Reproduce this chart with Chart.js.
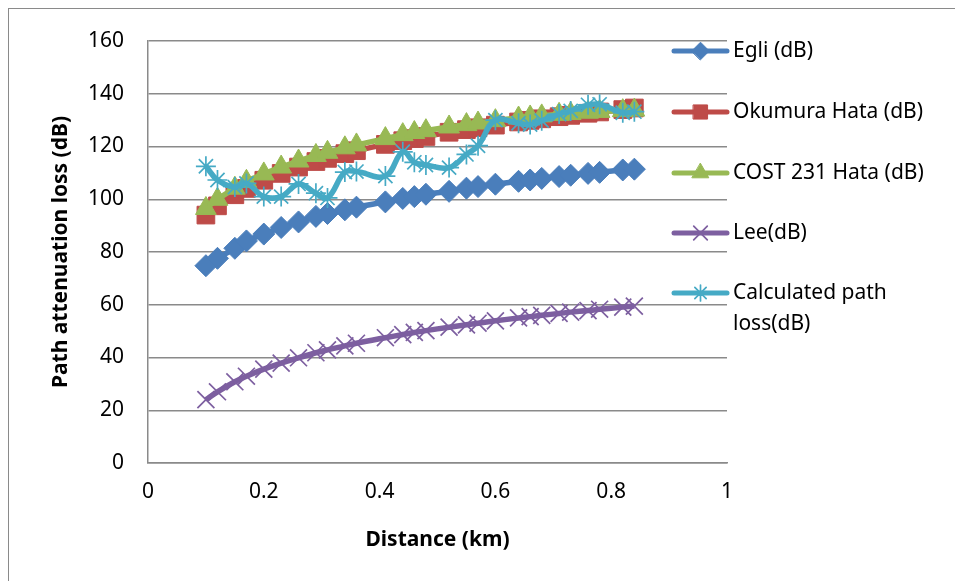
<!DOCTYPE html>
<html lang="en">
<head>
  <meta charset="UTF-8" />
  <title>Path attenuation loss</title>
  <script src="https://cdn.jsdelivr.net/npm/chart.js"></script>
  <style>
    body { margin: 0; background: #fff; }
    #wrap { position: relative; width: 955px; height: 581px; }
    #frame { position: absolute; left: 8px; top: 8px; right: 0; bottom: 0; border-left: 1px solid #8a8a8a; border-top: 1px solid #8a8a8a; pointer-events: none; }
    canvas { position: absolute; left: 0; top: 0; }
  </style>
</head>
<body>
<div id="wrap">
  <canvas id="lossChart" width="955" height="581"></canvas>
  <div id="frame"></div>
</div>

<script>
  // distances (km)
  const distance = [0.1, 0.12, 0.15, 0.17, 0.2, 0.23, 0.26, 0.29, 0.31, 0.34, 0.36, 0.41, 0.44, 0.46,
                    0.48, 0.52, 0.55, 0.57, 0.6, 0.64, 0.66, 0.68, 0.71, 0.73, 0.76, 0.78, 0.82, 0.84];

  const egli = [74.8, 77.6, 81.4, 84.2, 86.8, 89.3, 91.4, 93.5, 94.6, 96.0, 97.0, 99.0, 100.3, 101.0,
                101.9, 103.0, 104.2, 104.8, 105.7, 106.8, 107.3, 107.9, 108.6, 109.1, 109.8, 110.2, 111.1, 111.4];

  const okumuraHata = [94.0, 97.5, 101.7, 104.1, 107.2, 109.8, 112.2, 114.3, 115.5, 117.3, 118.4, 120.8, 122.2, 123.0,
                       123.8, 125.4, 126.4, 127.1, 128.1, 129.3, 129.9, 130.5, 131.3, 131.8, 132.6, 133.1, 134.0, 134.6];

  const cost231 = [96.5, 100.0, 104.2, 106.8, 109.6, 112.2, 114.5, 116.6, 117.8, 119.5, 120.6, 123.0, 124.5, 125.3,
                   126.0, 127.4, 128.3, 128.9, 129.8, 130.8, 131.2, 131.6, 132.2, 132.5, 133.0, 133.3, 133.6, 133.8];

  const lee = [24.0, 27.0, 30.8, 32.9, 35.6, 37.9, 39.9, 41.8, 42.9, 44.4, 45.4, 47.5, 48.7, 49.5,
               50.2, 51.5, 52.4, 53.0, 53.9, 55.0, 55.5, 56.0, 56.7, 57.2, 57.8, 58.3, 59.1, 59.5];

  const calculated = [112.5, 107.3, 104.6, 106.0, 101.0, 101.0, 105.8, 102.3, 100.5, 110.3, 110.5, 108.8, 118.0, 114.0,
                      113.0, 112.0, 117.0, 120.3, 130.0, 128.8, 128.3, 129.8, 132.3, 133.5, 135.8, 136.0, 132.8, 133.2];

  const FONT = "'Noto Sans', 'DejaVu Sans', sans-serif";

  function pts(arr) {
    return arr.map((v, i) => ({ x: distance[i], y: v }));
  }

  function series(label, values, color, style, radius, order, filled) {
    return {
      label: label,
      data: pts(values),
      borderColor: color,
      backgroundColor: color,
      borderWidth: 5.5,
      showLine: true,
      tension: 0.4,
      pointStyle: style,
      pointRadius: radius,
      pointBorderWidth: filled ? 1 : 1.7,
      pointBorderColor: color,
      pointBackgroundColor: filled ? color : 'transparent',
      order: order
    };
  }

  const datasets = [
    series('Egli (dB)', egli, '#4a7ebb', 'rectRot', 11, 5, true),
    series('Okumura Hata (dB)', okumuraHata, '#be4b48', 'rect', 12.5, 4, true),
    series('COST 231 Hata (dB)', cost231, '#98b954', 'triangle', 12, 3, true),
    series('Lee(dB)', lee, '#7d5fa0', 'crossRot', 12, 2, false),
    series('Calculated path loss(dB)', calculated, '#46aac5', 'star', 10, 1, false)
  ];

  // legend drawn over the right part of the plot, like the original
  const legendLines = [['Egli (dB)'], ['Okumura Hata (dB)'], ['COST 231 Hata (dB)'], ['Lee(dB)'], ['Calculated path', 'loss(dB)']];
  const legendY = [51, 112, 173, 233, 293];

  const sideLegend = {
    id: 'sideLegend',
    afterDraw(chart) {
      const ctx = chart.ctx;
      ctx.save();
      datasets.forEach((ds, i) => {
        const y = legendY[i];
        ctx.beginPath();
        ctx.lineCap = 'round';
        ctx.lineWidth = 5;
        ctx.strokeStyle = ds.borderColor;
        ctx.moveTo(674, y);
        ctx.lineTo(727, y);
        ctx.stroke();
        ctx.fillStyle = ds.pointBackgroundColor;
        ctx.strokeStyle = ds.pointBorderColor;
        ctx.lineWidth = ds.pointBorderWidth;
        Chart.helpers.drawPoint(ctx, { pointStyle: ds.pointStyle, radius: ds.pointRadius * 0.8, rotation: 0, borderWidth: ds.pointBorderWidth }, 700.5, y);
        ctx.fillStyle = '#000';
        ctx.font = '21px ' + FONT;
        ctx.textBaseline = 'middle';
        ctx.textAlign = 'left';
        legendLines[i].forEach((t, j) => ctx.fillText(t, 733, y + j * 31));
      });
      ctx.restore();
    }
  };

  const ctx = document.getElementById('lossChart').getContext('2d');
  const chart = new Chart(ctx, {
    type: 'scatter',
    data: { datasets: datasets },
    options: {
      responsive: false,
      animation: false,
      layout: { padding: { left: 0, right: 228, top: 41, bottom: 0 } },
      plugins: { legend: { display: false }, tooltip: { enabled: false } },
      scales: {
        x: {
          min: 0, max: 1,
          ticks: {
            stepSize: 0.2, padding: 16, color: '#000', font: { family: FONT, size: 21 },
            callback: v => String(Number(v.toFixed(1)))
          },
          grid: { display: false, drawTicks: false },
          border: { color: '#8a8a8a', width: 1.5 },
          title: { display: true, text: 'Distance (km)', color: '#000', font: { family: FONT, size: 21, weight: 'bold' }, padding: { bottom: 28 } },
          afterFit(scale) { scale.height = 118; }
        },
        y: {
          min: 0, max: 160,
          ticks: { stepSize: 20, padding: 24, color: '#000', font: { family: FONT, size: 21 } },
          grid: { color: '#8a8a8a', lineWidth: 1.5, drawTicks: false },
          border: { color: '#8a8a8a', width: 1.5 },
          title: { display: true, text: 'Path attenuation loss (dB)', color: '#000', font: { family: FONT, size: 21, weight: 'bold' }, padding: { top: 48 } },
          afterFit(scale) { scale.width = 148; }
        }
      }
    },
    plugins: [sideLegend]
  });
</script>
</body>
</html>
